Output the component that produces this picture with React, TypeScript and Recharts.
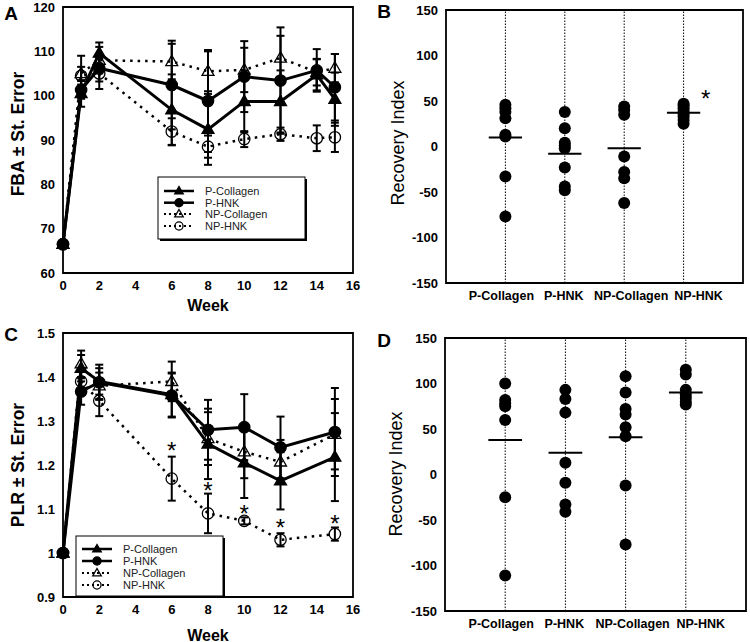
import React from 'react';
import {
    ComposedChart, ScatterChart, Line, Scatter, XAxis, YAxis,
    ErrorBar, ReferenceArea, ReferenceLine
} from 'recharts';

const FONT = 'Arial, "Liberation Sans", Helvetica, sans-serif';
const INK = '#000';

const seriesNames = ['P-Collagen', 'P-HNK', 'NP-Collagen', 'NP-HNK'];

// --- Panel A: FBA ---
const weeksA = [0, 1, 2, 6, 8, 10, 12, 14, 15];
const fbaPCollagen = [66.5, 100.5, 109.6, 96.8, 92.4, 98.7, 98.7, 104.7, 99.2];
const fbaPCollagenErr = [0, 3, 2.4, 8, 8, 7, 7, 3.5, 6];
const fbaPHnk = [66.5, 101.3, 106.2, 102.4, 98.8, 104.3, 103.4, 105.7, 101.9];
const fbaPHnkErr = [0, 2, 3, 10, 11.5, 8, 12, 4.8, 7.5];
const fbaNPCollagen = [66.5, 105, 108, 107.7, 105.5, 105.8, 108.5, 105.3, 106.2];
const fbaNPCollagenErr = [0, 4, 3, 4, 4.5, 5, 5, 3, 3.2];
const fbaNPHnk = [66.5, 104.5, 105, 91.9, 88.5, 90.2, 91.3, 90.4, 90.6];
const fbaNPHnkErr = [0, 2, 3.5, 3, 2.5, 1.8, 1.5, 2.9, 3.3];
const weekTicks = [0, 2, 4, 6, 8, 10, 12, 14, 16];
const fbaTicks = [60, 70, 80, 90, 100, 110, 120];

// --- Panel C: PLR ---
const weeksC = [0, 1, 2, 6, 8, 10, 12, 15];
const plrPCollagen = [1.0, 1.42, 1.39, 1.36, 1.248, 1.205, 1.164, 1.218];
const plrPCollagenErr = [0, 0.03, 0.03, 0.05, 0.08, 0.08, 0.065, 0.1];
const plrPHnk = [1.0, 1.367, 1.388, 1.358, 1.28, 1.286, 1.24, 1.275];
const plrPHnkErr = [0, 0.03, 0.04, 0.05, 0.068, 0.075, 0.07, 0.1];
const plrNPCollagen = [1.0, 1.43, 1.38, 1.39, 1.26, 1.23, 1.207, 1.27];
const plrNPCollagenErr = [0, 0.03, 0.03, 0.045, 0.06, 0.06, 0.05, 0.08];
const plrNPHnk = [1.0, 1.39, 1.346, 1.169, 1.09, 1.073, 1.03, 1.043];
const plrNPHnkErr = [0, 0.03, 0.035, 0.05, 0.045, 0.008, 0.015, 0.015];
const plrStarWeeks = [6, 8, 10, 12, 15];
const plrStarValues = [1.244, 1.152, 1.1, 1.068, 1.077];
const plrTicks = [0.9, 1, 1.1, 1.2, 1.3, 1.4, 1.5];

// --- Panel B: Recovery index (FBA) ---
const riBPCollagen = [46, 42, 38, 31, 13, 11, -33, -77];
const riBPHnk = [38, 20, 4, 1, -2, -23, -44, -48];
const riBNPCollagen = [44, 40, 35, -11, -28, -35, -62];
const riBNPHnk = [47, 45, 42, 39, 36, 33, 29, 25];
const riBMeans = [10, -8, -2, 37];
const riBStar = { x: 4.37, y: 58 };

// --- Panel D: Recovery index (PLR) ---
const riDPCollagen = [100, 82, 78, 75, 60, -25, -111];
const riDPHnk = [93, 83, 68, 13, -9, -33, -41];
const riDNPCollagen = [108, 90, 72, 66, 52, 42, -12, -77];
const riDNPHnk = [115, 110, 93, 88, 84, 80, 77];
const riDMeans = [38, 24, 41, 90];
const riTicks = [-150, -100, -50, 0, 50, 100, 150];

const rows = (weeks: number[], v: number[], e: number[]) =>
    weeks.map((w, i) => ({ week: w, v: v[i], e: e[i] }));

const groupPoints = (groups: number[][]) =>
    groups.flatMap((vals, gi) => vals.map(y => ({ x: gi + 1, y })));

type MarkerKind = 'triFilled' | 'circFilled' | 'triOpen' | 'circOpen';
const markerKinds: MarkerKind[] = ['triFilled', 'circFilled', 'triOpen', 'circOpen'];

function marker(kind: MarkerKind, cx: number, cy: number, s: number, key?: string) {
    if (cx == null || cy == null) return null;
    if (kind === 'triFilled' || kind === 'triOpen') {
        const d = `M${cx},${cy - s} L${cx + s * 0.95},${cy + s * 0.65} L${cx - s * 0.95},${cy + s * 0.65} Z`;
        return <path key={key} d={d} fill={kind === 'triFilled' ? INK : 'none'} stroke={INK} strokeWidth={1.3} />;
    }
    return <circle key={key} cx={cx} cy={cy} r={s * 0.9} fill={kind === 'circFilled' ? INK : 'none'} stroke={INK} strokeWidth={1.3} />;
}

const dotOf = (kind: MarkerKind) => (p: any) => marker(kind, p.cx, p.cy, 6.3, `d-${kind}-${p.index}`);

const tickStyle = { fontSize: 13, fontWeight: 'bold' as const, fill: INK, fontFamily: FONT };

function SeriesLine({ data, idx }: { data: any[]; idx: number }) {
    const dashed = idx >= 2;
    return (
        <Line
            data={data}
            dataKey="v"
            type="linear"
            stroke={INK}
            strokeWidth={dashed ? 2.5 : 3}
            strokeDasharray={dashed ? '2.5 5' : undefined}
            dot={dotOf(markerKinds[idx])}
            activeDot={false}
            isAnimationActive={false}
            name={seriesNames[idx]}
        >
            <ErrorBar dataKey="e" width={4} strokeWidth={2} stroke={INK} />
        </Line>
    );
}

function starShape(p: any) {
    if (p.cx == null) return null;
    return <text x={p.cx} y={p.cy + 13} textAnchor="middle" fontSize={24} fontFamily={FONT} fill={INK}>*</text>;
}

function TimeCourse({ series, weeksData, yDomain, yTicks, stars, margin }: any) {
    return (
        <ComposedChart width={375} height={series === 'A' ? 320 : 322} margin={margin} style={{ fontFamily: FONT }}>
            <XAxis type="number" dataKey="week" domain={[0, 16]} ticks={weekTicks} interval={0}
                tickLine={false} axisLine={false} tick={tickStyle} height={30} />
            <YAxis type="number" domain={yDomain} ticks={yTicks} interval={0} allowDataOverflow
                tickLine={false} axisLine={false} tick={tickStyle} width={40} />
            <ReferenceArea x1={0} x2={16} y1={yDomain[0]} y2={yDomain[1]} fill="none" stroke={INK} strokeWidth={1.8} />
            {[3, 2, 0, 1].map(i => <SeriesLine key={i} data={weeksData[i]} idx={i} />)}
            {stars && (
                <Scatter data={stars} dataKey="v" shape={starShape} isAnimationActive={false} />
            )}
        </ComposedChart>
    );
}

const groupTickShift = [-4, -1, 7, 15];

function GroupTick(p: any) {
    const i = p.payload.value - 1;
    return (
        <text x={p.x + groupTickShift[i]} y={p.y + 5} textAnchor="middle" dominantBaseline="central"
            fontSize={12.5} fontWeight="bold" fontFamily={FONT} fill={INK}>
            {seriesNames[i]}
        </text>
    );
}

function RecoveryPanel({ points, means, star, margin, height }: any) {
    return (
        <ScatterChart width={375} height={height} margin={margin} style={{ fontFamily: FONT }}>
            <XAxis type="number" dataKey="x" domain={[0, 5]} ticks={[1, 2, 3, 4]} interval={0}
                tickLine={false} axisLine={false} tick={<GroupTick />} height={30} />
            <YAxis type="number" dataKey="y" domain={[-150, 150]} ticks={riTicks} interval={0}
                tickLine={false} axisLine={false} tick={tickStyle} width={40} />
            <ReferenceArea x1={0} x2={5} y1={-150} y2={150} fill="none" stroke={INK} strokeWidth={1.8} />
            {[1, 2, 3, 4].map(g => (
                <ReferenceLine key={`g${g}`} x={g} stroke={INK} strokeWidth={1} strokeDasharray="1.5 1.5" />
            ))}
            <Scatter data={points} isAnimationActive={false}
                shape={(p: any) => <circle cx={p.cx} cy={p.cy} r={6} fill={INK} />} />
            {means.map((m: number, i: number) => (
                <ReferenceLine key={`m${i}`} segment={[{ x: i + 1 - 0.28, y: m }, { x: i + 1 + 0.28, y: m }]}
                    stroke={INK} strokeWidth={2} />
            ))}
            {star && <Scatter data={[star]} shape={starShape} isAnimationActive={false} />}
        </ScatterChart>
    );
}

function LegendBox({ x, y, w, h, rowY }: { x: number; y: number; w: number; h: number; rowY: number[] }) {
    return (
        <g>
            <rect x={x + 2} y={y + 2} width={w} height={h} fill={INK} />
            <rect x={x} y={y} width={w} height={h} fill="#fff" stroke={INK} strokeWidth={1} />
            {seriesNames.map((name, i) => {
                const cy = y + rowY[i];
                const dashed = i >= 2;
                return (
                    <g key={name}>
                        <line x1={x + 6} x2={x + 36} y1={cy} y2={cy} stroke={INK}
                            strokeWidth={dashed ? 2 : 2.5} strokeDasharray={dashed ? '2 3' : undefined} />
                        {marker(markerKinds[i], x + 21, cy, 4.5)}
                        <text x={x + 47} y={cy} dominantBaseline="central" fontSize={11}
                            fontFamily={FONT} fill="#222">{name}</text>
                    </g>
                );
            })}
        </g>
    );
}

export default function App() {
    const dataA = [
        rows(weeksA, fbaPCollagen, fbaPCollagenErr),
        rows(weeksA, fbaPHnk, fbaPHnkErr),
        rows(weeksA, fbaNPCollagen, fbaNPCollagenErr),
        rows(weeksA, fbaNPHnk, fbaNPHnkErr),
    ];
    const dataC = [
        rows(weeksC, plrPCollagen, plrPCollagenErr),
        rows(weeksC, plrPHnk, plrPHnkErr),
        rows(weeksC, plrNPCollagen, plrNPCollagenErr),
        rows(weeksC, plrNPHnk, plrNPHnkErr),
    ];
    const starsC = plrStarWeeks.map((w, i) => ({ week: w, v: plrStarValues[i] }));
    const pointsB = groupPoints([riBPCollagen, riBPHnk, riBNPCollagen, riBNPHnk]);
    const pointsD = groupPoints([riDPCollagen, riDPHnk, riDNPCollagen, riDNPHnk]);

    const title = (t: string, x: number, y: number, size: number, bold: boolean, rotate = false) => (
        <text x={x} y={y} textAnchor="middle" dominantBaseline="central" fontSize={size}
            fontWeight={bold ? 'bold' : 'normal'} fontFamily={FONT} fill={INK}
            transform={rotate ? `rotate(-90 ${x} ${y})` : undefined}>{t}</text>
    );

    return (
        <div style={{ position: 'absolute', left: 0, top: 0, width: 750, height: 642, background: '#fff', overflow: 'hidden' }}>
            <div style={{ position: 'absolute', left: 0, top: 0 }}>
                <TimeCourse series="A" weeksData={dataA} yDomain={[60, 120]} yTicks={fbaTicks}
                    margin={{ top: 7, right: 22, bottom: 17, left: 23 }} />
            </div>
            <div style={{ position: 'absolute', left: 375, top: 0 }}>
                <RecoveryPanel points={pointsB} means={riBMeans} star={riBStar} height={320}
                    margin={{ top: 10, right: 7, bottom: 7, left: 31 }} />
            </div>
            <div style={{ position: 'absolute', left: 0, top: 320 }}>
                <TimeCourse series="C" weeksData={dataC} yDomain={[0.9, 1.5]} yTicks={plrTicks} stars={starsC}
                    margin={{ top: 13, right: 22, bottom: 15, left: 23 }} />
            </div>
            <div style={{ position: 'absolute', left: 375, top: 320 }}>
                <RecoveryPanel points={pointsD} means={riDMeans} height={322}
                    margin={{ top: 18, right: 4, bottom: 1, left: 30 }} />
            </div>
            <svg width={750} height={642} style={{ position: 'absolute', left: 0, top: 0, pointerEvents: 'none' }}>
                {title('A', 11, 13, 19, true)}
                {title('B', 384, 11, 19, true)}
                {title('C', 11, 334, 19, true)}
                {title('D', 384, 340, 19, true)}
                {title('FBA ± St. Error', 18, 134, 17.5, true, true)}
                {title('PLR ± St. Error', 18, 465, 17.5, true, true)}
                {title('Week', 208, 305, 16, true)}
                {title('Week', 208, 635, 16, true)}
                {title('Recovery Index', 398, 143, 18, false, true)}
                {title('Recovery Index', 396, 474, 18, false, true)}
                <LegendBox x={158} y={177} w={147} h={62} rowY={[14, 25.7, 37, 49]} />
                <LegendBox x={76} y={536} w={147} h={60} rowY={[13, 25, 37, 49]} />
            </svg>
        </div>
    );
}
